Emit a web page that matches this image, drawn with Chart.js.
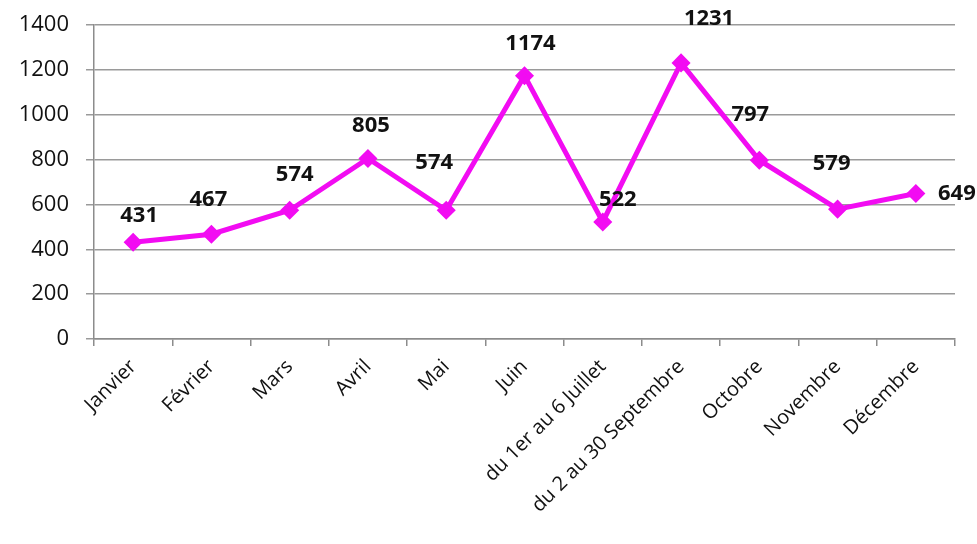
<!DOCTYPE html>
<html>
<head>
<meta charset="utf-8">
<script src="https://cdn.jsdelivr.net/npm/chart.js@4.4.0/dist/chart.umd.min.js"></script>
<style>
  html, body { margin: 0; padding: 0; background: #fff; }
  #wrap { width: 977px; height: 544px; }
</style>
</head>
<body>
<div id="wrap"><canvas id="myChart" width="977" height="544"></canvas></div>
<script>
const categories = [
  "Janvier", "Février", "Mars", "Avril", "Mai", "Juin",
  "du 1er au 6 Juillet", "du 2 au 30 Septembre",
  "Octobre", "Novembre", "Décembre",
];
const values = [431, 467, 574, 805, 574, 1174, 522, 1231, 797, 579, 649];
const yTicks = [0, 200, 400, 600, 800, 1000, 1200, 1400];

// where each value label sits relative to its point (px)
const labelOffsets = [
  [6, -27], [-3, -35], [5, -36], [3, -33], [-12, -48], [6, -32],
  [15, -22], [28, -44], [-9, -46], [-6, -45], [41, 0],
];

const valueLabels = {
  id: "valueLabels",
  afterDatasetsDraw(chart) {
    const c = chart.ctx;
    const meta = chart.getDatasetMeta(0);
    c.save();
    c.font = "bold 22px 'Open Sans'";
    c.fillStyle = "#111";
    c.textAlign = "center";
    c.textBaseline = "middle";
    meta.data.forEach((pt, i) => {
      const off = labelOffsets[i];
      c.fillText(String(values[i]), pt.x + off[0], pt.y + off[1]);
    });
    c.restore();
  },
};

const ctx = document.getElementById("myChart");

new Chart(ctx, {
  type: "line",
  data: {
    labels: categories,
    datasets: [
      {
        data: values,
        borderColor: "#f20cf2",
        backgroundColor: "#f20cf2",
        borderWidth: 5,
        pointStyle: "rectRot",
        pointRadius: 6,
        pointHoverRadius: 6,
        tension: 0,
      },
    ],
  },
  options: {
    responsive: false,
    animation: false,
    layout: { padding: { top: 25, right: 22, left: 0, bottom: 0 } },
    plugins: {
      legend: { display: false },
      tooltip: { enabled: false },
    },
    scales: {
      x: {
        offset: true,
        grid: {
          offset: true,
          drawOnChartArea: false,
          color: "#8c8c8c",
          lineWidth: 1.5,
          tickLength: 7,
        },
        border: { color: "#8c8c8c", width: 1.5 },
        ticks: {
          color: "#111",
          font: { family: "'Open Sans'", size: 20 },
          minRotation: 45,
          maxRotation: 45,
          padding: 9,
          autoSkip: false,
        },
        afterFit: (scale) => {
          scale.height = 205;
        },
      },
      y: {
        min: 0,
        max: 1400,
        afterBuildTicks: (scale) => {
          scale.ticks = yTicks.map((v) => ({ value: v }));
        },
        grid: {
          color: "#9a9a9a",
          lineWidth: 1.5,
          tickLength: 8,
        },
        border: { color: "#8c8c8c", width: 1.5 },
        ticks: {
          color: "#111",
          font: { family: "'Open Sans'", size: 22 },
          padding: 17,
          callback: (v) => String(v),
        },
        afterFit: (scale) => {
          scale.width = 94;
          scale.paddingTop = 0;
          scale.paddingBottom = 0;
        },
      },
    },
  },
  plugins: [valueLabels],
});
</script>
</body>
</html>
